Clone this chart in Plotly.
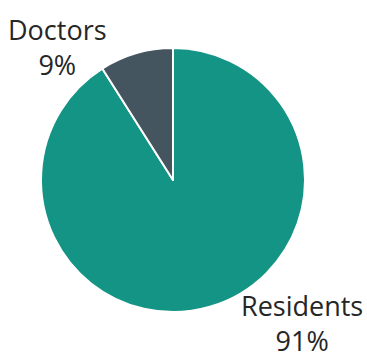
import plotly.graph_objects as go

# Share of respondents by role (drawn clockwise from 12 o'clock)
labels = ["Residents", "Doctors"]
values = [91, 9]
colors = ["#139484", "#45555F"]

# Label placement (paper coordinates) for each slice
label_x = [0.823, 0.158]
label_y = [0.097, 0.869]

W, H = 367, 358
cx, cy, r = 173, 178, 132

fig = go.Figure(
    go.Pie(
        labels=labels,
        values=values,
        sort=False,
        direction="clockwise",
        rotation=0,
        marker=dict(colors=colors, line=dict(color="white", width=2)),
        textinfo="none",
        hoverinfo="label+percent",
        showlegend=False,
        domain=dict(x=[(cx - r) / W, (cx + r) / W], y=[(cy - r) / H, (cy + r) / H]),
    )
)

total = sum(values)
for lab, val, x, y in zip(labels, values, label_x, label_y):
    fig.add_annotation(
        x=x, y=y, xref="paper", yref="paper",
        text=f"{lab}<br>{round(100 * val / total)}%",
        showarrow=False, xanchor="center", yanchor="middle",
        font=dict(family="Open Sans", size=27, color="#262626"),
    )

fig.update_layout(
    width=W, height=H,
    margin=dict(l=0, r=0, t=0, b=0),
    paper_bgcolor="white", plot_bgcolor="white",
)

fig.write_html("out.html")
